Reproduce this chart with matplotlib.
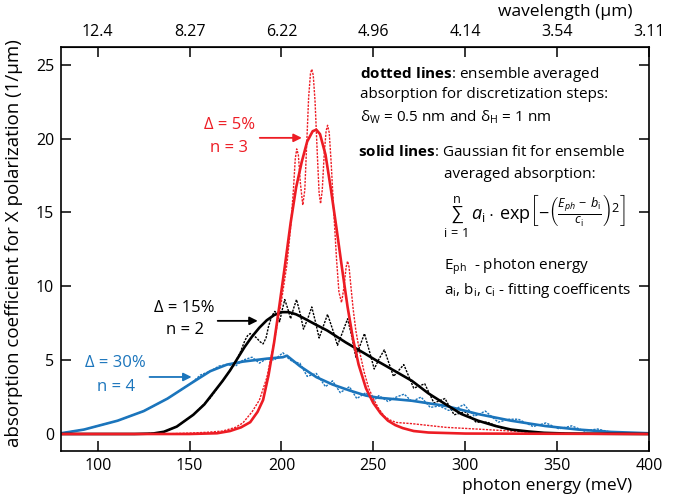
import matplotlib
matplotlib.use("Agg")
import matplotlib.pyplot as plt

plt.rcParams['font.family'] = ['Open Sans', 'DejaVu Sans']
plt.rcParams['mathtext.fontset'] = 'custom'
plt.rcParams['mathtext.rm'] = 'Open Sans'
plt.rcParams['mathtext.it'] = 'Open Sans:italic'
plt.rcParams['mathtext.bf'] = 'Open Sans:bold'

RED = '#ED1C24'
BLUE = '#1B75BC'
BLACK = '#000000'

# ---------------- data ----------------
# photon energy (meV) / absorption (1/um)
red_fit_x = [80, 150, 165, 172, 178, 183, 187, 190, 193, 196, 199, 202, 205, 208, 211, 214, 217, 219,
             221, 224, 227, 230, 233, 236, 239, 242, 246, 250, 254, 258, 262, 266, 272, 280, 300, 400]
red_fit_y = [0, 0, 0.05, 0.2, 0.45, 0.8, 1.5, 2.3, 4.0, 6.2, 8.8, 11.5, 14.3, 16.7, 18.4, 19.8, 20.5, 20.6,
             20.3, 18.9, 16.5, 13.9, 11.2, 8.6, 6.4, 4.7, 3.1, 2.1, 1.4, 0.9, 0.6, 0.4, 0.2, 0.1, 0.03, 0]

red_dot_x = [80, 140, 152, 160, 168, 175, 179, 184, 188, 192, 196, 200, 203, 205, 206.5, 207.5, 208.3,
             209.2, 210.3, 211.6, 212.7, 213.7, 214.8, 215.8, 216.5, 217.3, 218.3, 219.5, 220.5, 221.3,
             222.2, 223.3, 224.3, 225.1, 226, 227, 228.5, 230, 231.3, 232.7, 234, 235.2, 236, 236.8,
             237.8, 239, 240.5, 242.5, 245, 247.5, 250, 253, 256, 259, 262.5, 271, 289.5, 307, 325,
             343.6, 360, 400]
red_dot_y = [0, 0.02, 0.07, 0.12, 0.2, 0.45, 0.75, 1.5, 2.3, 3.8, 6.2, 9.0, 11.5, 14.0, 16.5, 18.6, 19.3,
             18.9, 17.0, 15.5, 16.5, 19.5, 22.8, 24.4, 24.7, 24.3, 22.5, 19.0, 16.3, 15.6,
             16.5, 19.0, 20.5, 20.9, 20.4, 18.5, 15.0, 11.8, 9.6, 8.9, 9.9, 11.3, 11.7, 11.3,
             10.0, 8.5, 7.0, 5.6, 4.2, 3.1, 2.4, 1.7, 1.2, 0.95, 0.78, 0.7, 0.45, 0.33, 0.2,
             0.07, 0.02, 0]

black_fit_x = [80, 120, 130, 136, 143, 152, 158, 163, 168, 172, 176, 180, 184, 188, 192, 196, 200, 204,
               208, 212, 218, 225, 235, 246, 252, 257, 264, 271, 280, 289.5, 298, 307, 316.6, 325, 334.5,
               343, 355, 400]
black_fit_y = [0, 0, 0.03, 0.15, 0.5, 1.3, 2.0, 2.8, 3.6, 4.3, 5.1, 5.9, 6.6, 7.2, 7.7, 8.05, 8.25, 8.25,
               8.1, 7.85, 7.45, 7.0, 6.2, 5.4, 4.95, 4.6, 4.1, 3.6, 2.75, 2.0, 1.35, 0.9, 0.54, 0.3, 0.17,
               0.08, 0.03, 0]

black_dot_x = [80, 125, 135, 143, 152, 161, 168, 172, 175, 177.5, 180, 181.5, 183, 184.5, 186.5, 188.3,
               190, 191.6, 193, 194.8, 196.4, 197.8, 199, 200.4, 201.8, 203.4, 205, 206.6, 208.2,
               210.1, 212, 214.3, 216.5, 218.5, 220.5, 222.8, 225.1, 227.8, 230.5, 233.3, 236, 238.3,
               240.5, 242.8, 245.2, 247.9, 250.5, 253.2, 256, 258.5, 261, 263.8, 266.6, 269.3, 272,
               275, 278, 280.5, 283, 286, 289, 291.5, 294, 297, 300, 303, 306, 309, 312, 316, 320,
               325, 330, 337, 345, 360, 400]
black_dot_y = [0, 0, 0.1, 0.5, 1.3, 2.4, 3.6, 4.3, 4.9, 5.5, 6.3, 6.65, 6.8, 6.7, 6.5, 6.25,
               6.1, 6.5, 7.3, 8.0, 8.3, 8.1, 7.6, 8.4, 9.1, 8.5, 7.8, 8.5, 9.1,
               8.2, 7.1, 7.8, 8.6, 7.6, 6.5, 7.3, 8.1, 7.1, 6.0, 6.9, 7.8, 6.6,
               5.2, 6.0, 6.8, 5.6, 4.4, 5.1, 5.7, 4.8, 3.9, 4.3, 4.7, 3.9, 3.1,
               3.25, 3.4, 2.75, 2.1, 2.25, 2.4, 1.85, 1.3, 1.4, 1.5, 1.15, 0.8, 0.8, 0.8, 0.6, 0.4,
               0.3, 0.2, 0.1, 0.05, 0.01, 0]

blue_fit_x = [80, 92.5, 110.8, 125, 138, 150.4, 161.2, 170.4, 179, 192, 200.8, 203, 210, 219, 227.8,
              237, 246, 253, 262.5, 271, 289.5, 307, 325, 343.6, 361.6, 379.4, 400]
blue_fit_y = [0.05, 0.3, 0.9, 1.55, 2.4, 3.4, 4.25, 4.7, 4.9, 5.1, 5.2, 5.3, 4.6, 3.85, 3.35,
              2.95, 2.6, 2.45, 2.35, 2.25, 1.9, 1.35, 0.9, 0.54, 0.3, 0.14, 0.05]

blue_dot_x = [80, 92.5, 110.8, 125, 138, 150.4, 156, 161.2, 166, 170.4, 175, 179, 184, 188, 192, 196,
              200.8, 203, 206, 210, 214, 219, 224, 227.8, 232, 237, 241, 246, 250, 253, 258, 262.5,
              266.8, 271, 276, 281, 286, 291, 295, 299.3, 305, 311, 318, 324, 329, 337, 344, 351,
              358, 365, 372, 380, 390, 400]
blue_dot_y = [0.05, 0.3, 0.9, 1.55, 2.4, 3.4, 4.0, 4.25, 4.6, 4.7, 4.6, 5.0, 5.2, 4.8, 5.1, 5.0,
              5.5, 5.2, 4.9, 4.8, 3.9, 4.1, 3.2, 3.6, 2.8, 3.2, 2.4, 2.8, 2.2, 2.6, 2.2, 2.5,
              2.7, 2.2, 2.5, 1.8, 1.9, 1.6, 1.7, 2.0, 1.2, 1.55, 0.8, 1.0, 1.0, 0.5, 0.75, 0.35,
              0.55, 0.2, 0.34, 0.1, 0.08, 0.03]

x_ticks = [100, 150, 200, 250, 300, 350, 400]
y_ticks = [0, 5, 10, 15, 20, 25]
wl_labels = ['12.4', '8.27', '6.22', '4.96', '4.14', '3.54', '3.11']

# ---------------- figure ----------------
W, H = 691, 497
fig = plt.figure(figsize=(6.91, 4.97), dpi=100)
ax = fig.add_axes([0.0883, 0.0926, 0.8507, 0.8128])

dot = (0, (1.6, 0.9))
ax.plot(red_dot_x, red_dot_y, color=RED, lw=1.0, ls=dot)
ax.plot(black_dot_x, black_dot_y, color=BLACK, lw=1.0, ls=dot)
ax.plot(blue_dot_x, blue_dot_y, color=BLUE, lw=1.0, ls=dot)
ax.plot(blue_fit_x, blue_fit_y, color=BLUE, lw=1.9)
ax.plot(black_fit_x, black_fit_y, color=BLACK, lw=1.9)
ax.plot(red_fit_x, red_fit_y, color=RED, lw=1.9)

ax.set_xlim(80, 400)
ax.set_ylim(-1.15, 26.2)
ax.set_xticks(x_ticks)
ax.set_yticks(y_ticks)
ax.tick_params(direction='in', length=7, width=1.1, labelsize=11.5, top=False, right=True, pad=5)
for s in ax.spines.values():
    s.set_linewidth(1.2)

top = ax.secondary_xaxis('top')
top.set_xticks(x_ticks)
top.set_xticklabels(wl_labels)
top.tick_params(direction='in', length=7, width=1.1, labelsize=11.5, pad=5)

def ft(x, y, s, **kw):
    fig.text(x / W, 1 - y / H, s, **kw)

ft(632, 12, 'wavelength (\u03bcm)', fontsize=12.5, ha='right', va='center')
ft(632, 486, 'photon energy (meV)', fontsize=12.5, ha='right', va='center')
fig.text(14 / W, 1 - 243 / H, 'absorption coefficient for X polarization (1/\u03bcm)',
         fontsize=13.5, rotation=90, ha='center', va='center')

# series labels with arrows
lab_fs = 12
ax.text(171.8, 20.9, '\u0394 = 5%', color=RED, fontsize=lab_fs, ha='center', va='center')
ax.text(171.5, 19.35, 'n = 3', color=RED, fontsize=lab_fs, ha='center', va='center')
ax.annotate('', xy=(211.1, 20.05), xytext=(188.2, 20.05),
            arrowprops=dict(arrowstyle='-|>', color=RED, lw=1.3, mutation_scale=12, shrinkA=0, shrinkB=0))

ax.text(147.3, 8.54, '\u0394 = 15%', color=BLACK, fontsize=lab_fs, ha='center', va='center')
ax.text(147.3, 7.05, 'n = 2', color=BLACK, fontsize=lab_fs, ha='center', va='center')
ax.annotate('', xy=(187.1, 7.66), xytext=(165.3, 7.66),
            arrowprops=dict(arrowstyle='-|>', color=BLACK, lw=1.3, mutation_scale=12, shrinkA=0, shrinkB=0))

ax.text(109.7, 4.81, '\u0394 = 30%', color=BLUE, fontsize=lab_fs, ha='center', va='center')
ax.text(109.7, 3.18, 'n = 4', color=BLUE, fontsize=lab_fs, ha='center', va='center')
ax.annotate('', xy=(151.1, 3.86), xytext=(128.2, 3.86),
            arrowprops=dict(arrowstyle='-|>', color=BLUE, lw=1.3, mutation_scale=12, shrinkA=0, shrinkB=0))

# explanatory text block
fs = 11
ft(360, 74, r'$\mathbf{dotted\ lines}$' + ': ensemble averaged', fontsize=fs, va='center')
ft(360, 95, 'absorption for discretization steps:', fontsize=fs, va='center')
ft(360, 117, r'$\mathrm{\delta_W}$ = 0.5 nm and $\mathrm{\delta_H}$ = 1 nm', fontsize=fs, va='center')
ft(358, 152, r'$\mathbf{solid\ lines}$' + ': Gaussian fit for ensemble', fontsize=fs, va='center')
ft(444, 174, 'averaged absorption:', fontsize=fs, va='center')
ft(443, 216, r'$\sum_{\mathrm{i\,=\,1}}^{\mathrm{n}}\, a_\mathrm{i}\cdot\,\mathrm{exp}\left[-\left(\frac{E_{ph}\,-\,b_\mathrm{i}}{c_\mathrm{i}}\right)^2\right]$',
   fontsize=13, va='center')
ft(444, 267, r'E$_\mathrm{ph}$  - photon energy', fontsize=fs, va='center')
ft(444, 290, r'a$_\mathrm{i}$, b$_\mathrm{i}$, c$_\mathrm{i}$ - fitting coefficents', fontsize=fs, va='center')

fig.savefig('out.png', dpi=100)
